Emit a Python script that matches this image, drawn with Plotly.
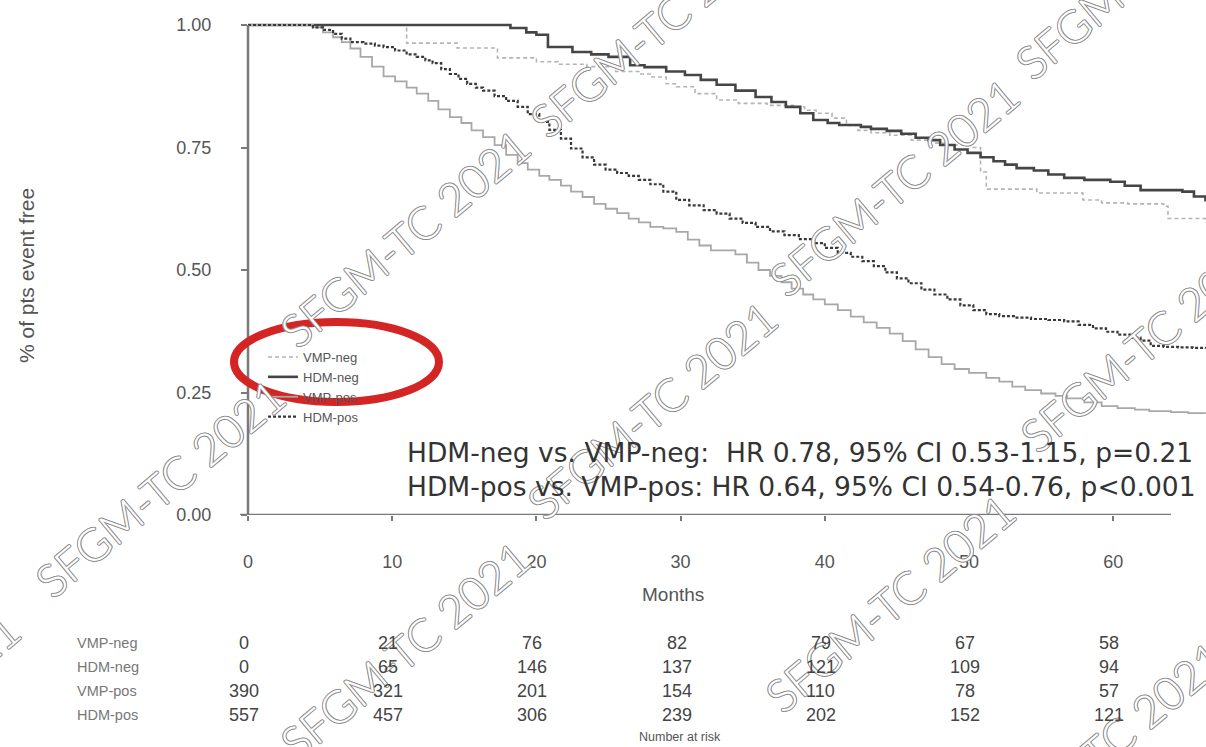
import plotly.graph_objects as go

# ---------------- data ----------------
vmp_neg_t = [0, 11.0, 14.5, 17.3, 20.0, 21.5, 23.5, 25.5, 27.1, 27.9, 29.0, 29.7, 31.0, 32.5, 34.0, 36.0, 37.8, 38.6, 39.4, 40.5, 41.5, 42.3, 43.2, 44.5, 46.0, 47.2, 48.5, 50.1, 50.8, 51.2, 54.7, 57.9, 59.2, 61.0, 63.5, 63.8, 66.4]
vmp_neg_s = [1.0, 0.963, 0.953, 0.933, 0.925, 0.92, 0.915, 0.905, 0.9, 0.894, 0.88, 0.874, 0.86, 0.847, 0.84, 0.836, 0.833, 0.826, 0.82, 0.81, 0.795, 0.785, 0.78, 0.775, 0.765, 0.759, 0.755, 0.75, 0.70, 0.665, 0.657, 0.643, 0.637, 0.635, 0.63, 0.605, 0.596]

hdm_neg_t = [0, 18.2, 19.3, 20.0, 20.8, 22.5, 23.8, 25.0, 26.5, 27.5, 29.0, 30.3, 31.4, 32.5, 33.8, 35.2, 36.3, 37.3, 38.3, 39.2, 40.2, 41.0, 42.5, 43.2, 44.3, 45.3, 46.3, 47.2, 48.0, 49.0, 49.9, 50.8, 51.7, 52.5, 53.3, 54.5, 55.5, 56.6, 58.0, 59.8, 60.8, 61.9, 64.8, 65.6, 66.4]
hdm_neg_s = [1.0, 0.994, 0.985, 0.98, 0.955, 0.945, 0.94, 0.935, 0.918, 0.914, 0.905, 0.898, 0.888, 0.878, 0.866, 0.853, 0.843, 0.833, 0.82, 0.806, 0.80, 0.796, 0.792, 0.788, 0.784, 0.778, 0.77, 0.765, 0.755, 0.746, 0.739, 0.73, 0.722, 0.715, 0.708, 0.703, 0.695, 0.688, 0.684, 0.68, 0.672, 0.663, 0.66, 0.65, 0.64]

vmp_pos_t = [0, 4.5, 5.2, 5.9, 6.5, 7.1, 7.8, 8.6, 9.4, 10.2, 11.0, 11.7, 12.5, 13.2, 14.0, 14.8, 15.5, 16.3, 17.1, 17.9, 18.7, 19.4, 20.2, 20.9, 21.7, 22.4, 23.2, 24.0, 24.8, 25.6, 26.4, 27.1, 27.9, 28.8, 29.7, 30.5, 31.3, 32.1, 33.0, 33.8, 34.6, 35.4, 36.2, 37.0, 37.7, 38.5, 39.2, 40.0, 40.9, 41.8, 42.7, 43.6, 44.5, 45.4, 46.3, 47.2, 48.1, 49.0, 50.0, 51.2, 52.1, 53.0, 53.9, 55.0, 56.0, 56.8, 58.0, 59.2, 60.3, 61.5, 62.5, 64.0, 65.2, 66.4]
vmp_pos_s = [1.0, 0.995, 0.985, 0.975, 0.965, 0.952, 0.935, 0.915, 0.895, 0.885, 0.872, 0.86, 0.845, 0.828, 0.812, 0.80, 0.785, 0.771, 0.755, 0.735, 0.718, 0.705, 0.692, 0.684, 0.672, 0.66, 0.649, 0.635, 0.625, 0.616, 0.605, 0.597, 0.588, 0.585, 0.578, 0.562, 0.55, 0.54, 0.54, 0.532, 0.515, 0.50, 0.488, 0.475, 0.462, 0.45, 0.44, 0.43, 0.418, 0.405, 0.393, 0.382, 0.37, 0.355, 0.338, 0.322, 0.308, 0.298, 0.29, 0.28, 0.272, 0.262, 0.255, 0.248, 0.243, 0.238, 0.23, 0.222, 0.218, 0.215, 0.212, 0.21, 0.208, 0.207]

hdm_pos_t = [0, 4.5, 5.2, 5.9, 6.5, 7.1, 8.0, 8.8, 9.4, 10.2, 11.0, 11.7, 12.3, 12.8, 13.4, 14.0, 14.6, 15.2, 15.8, 16.3, 17.1, 17.9, 18.7, 19.4, 20.2, 20.9, 21.7, 22.4, 23.2, 24.0, 24.8, 25.6, 26.4, 27.1, 27.9, 28.8, 29.7, 30.6, 31.6, 32.5, 33.4, 34.3, 35.2, 36.2, 37.2, 38.2, 39.2, 40.0, 40.9, 41.8, 42.6, 43.4, 44.2, 45.0, 45.8, 46.7, 47.6, 48.5, 49.4, 50.3, 51.2, 52.1, 53.2, 54.3, 55.5, 56.6, 57.6, 58.6, 59.5, 60.3, 61.2, 61.9, 62.6, 63.5, 64.5, 65.5, 66.4]
hdm_pos_s = [1.0, 0.995, 0.99, 0.982, 0.972, 0.965, 0.962, 0.958, 0.955, 0.948, 0.94, 0.935, 0.928, 0.922, 0.91, 0.90, 0.89, 0.88, 0.872, 0.866, 0.855, 0.845, 0.833, 0.818, 0.802, 0.786, 0.768, 0.748, 0.73, 0.715, 0.705, 0.698, 0.692, 0.684, 0.675, 0.66, 0.643, 0.632, 0.622, 0.615, 0.605, 0.596, 0.588, 0.579, 0.571, 0.563, 0.555, 0.545, 0.535, 0.527, 0.518, 0.508, 0.495, 0.483, 0.473, 0.46, 0.45, 0.44, 0.428, 0.418, 0.41, 0.406, 0.403, 0.40, 0.398, 0.395, 0.388, 0.381, 0.374, 0.368, 0.362, 0.356, 0.345, 0.343, 0.342, 0.341, 0.34]

x_ticks = [0, 10, 20, 30, 40, 50, 60]
y_ticks = [0.0, 0.25, 0.50, 0.75, 1.00]
y_tick_text = ["0.00", "0.25", "0.50", "0.75", "1.00"]

risk_groups = ["VMP-neg", "HDM-neg", "VMP-pos", "HDM-pos"]
risk_vmp_neg = [0, 21, 76, 82, 79, 67, 58]
risk_hdm_neg = [0, 65, 146, 137, 121, 109, 94]
risk_vmp_pos = [390, 321, 201, 154, 110, 78, 57]
risk_hdm_pos = [557, 457, 306, 239, 202, 152, 121]

hr_lines = ["HDM-neg vs. VMP-neg:  HR 0.78, 95% CI 0.53-1.15, p=0.21",
            "HDM-pos vs. VMP-pos: HR 0.64, 95% CI 0.54-0.76, p<0.001"]
watermark = "SFGM-TC 2021"

# ---------------- geometry helpers ----------------
W, H = 1206, 747
PL, PB = 248, 515          # plot left / bottom in px
PW, PH = W - PL, PB        # plot width / height


def px(x):
    return (x - PL) / PW


def py(y):
    return (PB - y) / PH


AX = "Liberation Sans"
fig = go.Figure()

series = [
    ("VMP-neg", vmp_neg_t, vmp_neg_s, dict(color="#b4b4b4", width=1.6, dash="4px,3px")),
    ("HDM-neg", hdm_neg_t, hdm_neg_s, dict(color="#454545", width=2.6)),
    ("VMP-pos", vmp_pos_t, vmp_pos_s, dict(color="#a8a8a8", width=1.8)),
    ("HDM-pos", hdm_pos_t, hdm_pos_s, dict(color="#383838", width=2.2, dash="3px,2px")),
]
for name, t, s, ln in series:
    fig.add_trace(go.Scatter(x=t, y=s, mode="lines", name=name,
                             line=dict(shape="hv", **ln)))

shapes = [
    # axis lines
    dict(type="line", xref="paper", yref="y", x0=px(240), x1=px(1171), y0=0, y1=0,
         line=dict(color="#7a7a7a", width=2.5)),
    dict(type="line", xref="paper", yref="y", x0=0, x1=0, y0=0, y1=1,
         line=dict(color="#7a7a7a", width=2.5)),
    # red highlight ellipse
    dict(type="circle", xref="paper", yref="paper", x0=px(234), x1=px(439),
         y0=py(402), y1=py(322), line=dict(color="#d42424", width=8), layer="above"),
]

ann = []
# watermarks (outlined text) - drawn first so the chart text stays readable
wm_centers = [(655, 28), (1140, -30), (405, 238), (652, 410), (894, 187), (1145, 343),
              (160, 488), (405, 650), (890, 603), (1100, 750), (-105, 722)]
sh = "#8e8e8e"
shadow = (f"1px 0 0 {sh}, -1px 0 0 {sh}, 0 1px 0 {sh}, 0 -1px 0 {sh}, "
          f"0.7px 0.7px 0 {sh}, -0.7px -0.7px 0 {sh}, 0.7px -0.7px 0 {sh}, -0.7px 0.7px 0 {sh}")
for cx, cy in wm_centers:
    ann.append(dict(text=watermark, xref="paper", yref="paper", x=px(cx), y=py(cy),
                    xanchor="center", yanchor="middle", showarrow=False, textangle=-40,
                    font=dict(family="Lato", size=45, weight=300, color="#ffffff",
                              shadow=shadow)))

# HR text
for i, line in enumerate(hr_lines):
    ann.append(dict(text=line, xref="paper", yref="paper", x=px(405), y=py(452 + 34 * i),
                    xanchor="left", yanchor="middle", showarrow=False,
                    font=dict(family="DejaVu Sans", size=26.5, color="#333333")))
# axis titles
ann.append(dict(text="Months", xref="paper", yref="paper", x=px(673), y=py(594),
                xanchor="center", yanchor="middle", showarrow=False,
                font=dict(family=AX, size=19, color="#555555")))
ann.append(dict(text="% of pts event free", xref="paper", yref="paper", x=px(26), y=py(276),
                xanchor="center", yanchor="middle", showarrow=False, textangle=-90,
                font=dict(family=AX, size=21, color="#555555")))
# number at risk
risk_rows = [risk_vmp_neg, risk_hdm_neg, risk_vmp_pos, risk_hdm_pos]
row_y = [643, 667, 691, 715]
for g, row, yy in zip(risk_groups, risk_rows, row_y):
    ann.append(dict(text=g, xref="paper", yref="paper", x=px(75), y=py(yy),
                    xanchor="left", yanchor="middle", showarrow=False,
                    font=dict(family=AX, size=14.5, color="#777777")))
    for m, v in zip(x_ticks, row):
        ann.append(dict(text=str(v), xref="x", yref="paper", x=m, y=py(yy), xshift=-4,
                        xanchor="center", yanchor="middle", showarrow=False,
                        font=dict(family=AX, size=18, color="#444444")))
ann.append(dict(text="Number at risk", xref="paper", yref="paper", x=px(680), y=py(737),
                xanchor="center", yanchor="middle", showarrow=False,
                font=dict(family=AX, size=12.5, color="#555555")))

fig.update_layout(
    width=W, height=H,
    margin=dict(l=PL, r=0, t=0, b=H - PB, autoexpand=False),
    paper_bgcolor="white", plot_bgcolor="white",
    showlegend=True,
    legend=dict(x=px(263), y=py(342), xanchor="left", yanchor="top",
                bgcolor="rgba(0,0,0,0)", font=dict(family=AX, size=13, color="#555555"),
                itemwidth=30, tracegroupgap=0),
    xaxis=dict(range=[0, (W - PL) / 14.42], showgrid=False, zeroline=False, showline=False,
               tickmode="array", tickvals=x_ticks, ticks="outside", ticklen=5,
               tickwidth=2, tickcolor="#7a7a7a", ticklabelstandoff=25,
               tickfont=dict(family=AX, size=18, color="#555555")),
    yaxis=dict(range=[0, 1 + 25 / 490], showgrid=False, zeroline=False, showline=False,
               tickmode="array", tickvals=y_ticks, ticktext=y_tick_text, ticks="outside",
               ticklen=6, tickwidth=2, tickcolor="#7a7a7a", ticklabelstandoff=26,
               tickfont=dict(family=AX, size=18, color="#555555")),
    shapes=shapes,
    annotations=ann,
)

fig.write_html("out.html")
